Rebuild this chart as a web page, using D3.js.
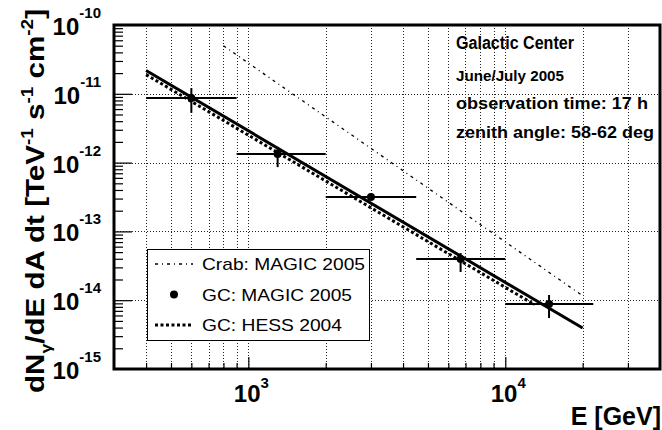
<!DOCTYPE html>
<html>
<head>
<meta charset="utf-8">
<script src="https://cdn.jsdelivr.net/npm/d3@7"></script>
<style>
  body { margin: 0; background: #fff; }
  text { font-family: "Liberation Sans", Arial, Helvetica, sans-serif; fill: #000; }
</style>
</head>
<body>
<svg id="chart" width="662" height="430"></svg>
<script>
// GC: MAGIC 2005 points (energy in GeV, flux in TeV^-1 s^-1 cm^-2)
let gc_energy = [600, 1300, 3000, 6700, 14800];
let gc_energy_low = [400, 900, 2000, 4500, 10000];
let gc_energy_high = [900, 2000, 4500, 10000, 22000];
let gc_flux = [8.7e-12, 1.33e-12, 3.16e-13, 3.97e-14, 8.8e-15];
let gc_flux_high = [1.21e-11, 1.69e-12, 3.4e-13, 4.85e-14, 1.19e-14];
let gc_flux_low = [5.3e-12, 8.6e-13, 2.9e-13, 2.57e-14, 5.5e-15];

// power law lines, read at their end points
let fit_energy = [400, 20000];
let fit_flux = [2.18e-11, 3.94e-15];
let hess_energy = [400, 13000];
let hess_flux = [1.9e-11, 8.6e-15];
let crab_energy = [800, 20000];
let crab_flux = [5.0e-11, 1.16e-14];

// axes
let x_domain = [300, 40000];
let y_domain = [1e-15, 1e-10];
let x_label_exp = [3, 4];
let y_label_exp = [-15, -14, -13, -12, -11, -10];

let legend_labels = ["Crab: MAGIC 2005", "GC: MAGIC 2005", "GC: HESS 2004"];
let info_lines = ["Galactic Center", "June/July 2005", "observation time: 17 h", "zenith angle: 58-62 deg"];

// layout
let frame = {left: 114, right: 660, top: 25, bottom: 369};

let svg = d3.select("#chart");

let x = d3.scaleLog().domain(x_domain).range([frame.left, frame.right]);
let y = d3.scaleLog().domain(y_domain).range([frame.bottom, frame.top]);

let x_all = x.ticks().filter(v => v > x_domain[0] && v < x_domain[1]);
let x_major = x_all.filter(v => Math.abs(Math.log10(v) % 1) < 1e-9);
let x_minor = x_all.filter(v => !x_major.includes(v));
let y_all = y.ticks().filter(v => v > y_domain[0] && v < y_domain[1]);
let y_major = y_all.filter(v => Math.abs(Math.round(Math.log10(v)) - Math.log10(v)) < 1e-9);
let y_minor = y_all.filter(v => !y_major.includes(v));

// grid
let grid = svg.append("g")
    .attr("stroke", "#222")
    .attr("stroke-width", 1)
    .attr("stroke-dasharray", "1,2");

grid.selectAll(".vgrid")
    .data(x_all)
    .join("line")
    .attr("x1", d => Math.round(x(d)) + 0.5)
    .attr("x2", d => Math.round(x(d)) + 0.5)
    .attr("y1", frame.top)
    .attr("y2", frame.bottom);

grid.selectAll(".hgrid")
    .data(y_major)
    .join("line")
    .attr("x1", frame.left)
    .attr("x2", frame.right)
    .attr("y1", d => Math.round(y(d)) + 0.5)
    .attr("y2", d => Math.round(y(d)) + 0.5);

// ticks (drawn inwards, ROOT style)
function draw_ticks(axis, values, size) {
    let g = svg.append("g");
    if (axis === "x") {
        g.attr("transform", "translate(0," + frame.bottom + ")")
         .call(d3.axisBottom(x).tickValues(values).tickSize(-size).tickFormat(""));
    } else {
        g.attr("transform", "translate(" + frame.left + ",0)")
         .call(d3.axisLeft(y).tickValues(values).tickSize(-size).tickFormat(""));
    }
    g.select(".domain").remove();
    g.selectAll("line").attr("stroke", "#000").attr("stroke-width", 1.2);
}
draw_ticks("x", x_minor, 6);
draw_ticks("x", x_major, 12);
draw_ticks("y", y_minor, 9);
draw_ticks("y", y_major, 18);

// tick labels
svg.selectAll(".xlab")
    .data(x_label_exp)
    .join("text")
    .attr("x", d => x(Math.pow(10, d)) + 3)
    .attr("y", 402)
    .attr("text-anchor", "middle")
    .attr("font-weight", "bold")
    .attr("font-size", 24)
    .each(function(d) {
        let t = d3.select(this);
        t.append("tspan").text("10");
        t.append("tspan").attr("font-size", 15).attr("dy", -14).text(d);
    });

svg.selectAll(".ylab")
    .data(y_label_exp)
    .join("text")
    .attr("x", 101)
    .attr("y", d => y(Math.pow(10, d)) + 10)
    .attr("text-anchor", "end")
    .attr("font-weight", "bold")
    .attr("font-size", 24)
    .each(function(d) {
        let t = d3.select(this);
        t.append("tspan").text("10");
        t.append("tspan").attr("font-size", 15).attr("dy", -17).text(d);
    });

// axis titles
svg.append("text")
    .attr("x", 661)
    .attr("y", 425)
    .attr("text-anchor", "end")
    .attr("font-weight", "bold")
    .attr("font-size", 25)
    .text("E [GeV]");

let ytitle = svg.append("text")
    .attr("transform", "translate(44,201) rotate(-90)")
    .attr("text-anchor", "middle")
    .attr("font-weight", "bold")
    .attr("font-size", 25)
    .attr("textLength", 384)
    .attr("lengthAdjust", "spacingAndGlyphs");
ytitle.append("tspan").text("dN");
ytitle.append("tspan").attr("font-size", 15).attr("dy", 7).text("γ");
ytitle.append("tspan").attr("dy", -7).text("/dE dA dt [TeV");
ytitle.append("tspan").attr("font-size", 16).attr("dy", -11).text("-1");
ytitle.append("tspan").attr("dy", 11).text(" s");
ytitle.append("tspan").attr("font-size", 16).attr("dy", -11).text("-1");
ytitle.append("tspan").attr("dy", 11).text(" cm");
ytitle.append("tspan").attr("font-size", 16).attr("dy", -11).text("-2");
ytitle.append("tspan").attr("dy", 11).text("]");

// lines
let line = d3.line().x(d => x(d[0])).y(d => y(d[1]));

svg.append("path")
    .attr("d", line(d3.zip(crab_energy, crab_flux)))
    .attr("fill", "none")
    .attr("stroke", "#000")
    .attr("stroke-width", 1.3)
    .attr("stroke-dasharray", "3,4,1,4");

svg.append("path")
    .attr("d", line(d3.zip(hess_energy, hess_flux)))
    .attr("fill", "none")
    .attr("stroke", "#000")
    .attr("stroke-width", 3)
    .attr("stroke-dasharray", "3,2.5");

svg.append("path")
    .attr("d", line(d3.zip(fit_energy, fit_flux)))
    .attr("fill", "none")
    .attr("stroke", "#000")
    .attr("stroke-width", 3);

// GC points with error bars
let pts = svg.append("g").attr("stroke", "#000").attr("stroke-width", 2);
pts.selectAll(".xerr")
    .data(gc_energy)
    .join("line")
    .attr("x1", (d, i) => x(gc_energy_low[i]))
    .attr("x2", (d, i) => x(gc_energy_high[i]))
    .attr("y1", (d, i) => y(gc_flux[i]))
    .attr("y2", (d, i) => y(gc_flux[i]));
pts.selectAll(".yerr")
    .data(gc_energy)
    .join("line")
    .attr("x1", d => x(d))
    .attr("x2", d => x(d))
    .attr("y1", (d, i) => y(gc_flux_high[i]))
    .attr("y2", (d, i) => y(gc_flux_low[i]));
svg.selectAll(".pt")
    .data(gc_energy)
    .join("circle")
    .attr("cx", d => x(d))
    .attr("cy", (d, i) => y(gc_flux[i]))
    .attr("r", 4)
    .attr("fill", "#000");

// legend
let legend = svg.append("g");
legend.append("rect")
    .attr("x", 147.5).attr("y", 249.5)
    .attr("width", 222).attr("height", 91)
    .attr("fill", "#fff").attr("stroke", "#000").attr("stroke-width", 1);

let legend_y = d3.scalePoint().domain(legend_labels).range([264, 325]);
let legend_width = [163, 150, 140];
legend.selectAll(".ltext")
    .data(legend_labels)
    .join("text")
    .attr("x", 202)
    .attr("y", d => legend_y(d) + 6)
    .attr("font-size", 17)
    .attr("textLength", (d, i) => legend_width[i])
    .attr("lengthAdjust", "spacingAndGlyphs")
    .text(d => d);

legend.append("line")
    .attr("x1", 155).attr("x2", 193)
    .attr("y1", legend_y(legend_labels[0])).attr("y2", legend_y(legend_labels[0]))
    .attr("stroke", "#000").attr("stroke-width", 1.3).attr("stroke-dasharray", "3,4,1,4");
legend.append("circle")
    .attr("cx", 174).attr("cy", legend_y(legend_labels[1]))
    .attr("r", 4).attr("fill", "#000");
legend.append("line")
    .attr("x1", 155).attr("x2", 193)
    .attr("y1", legend_y(legend_labels[2])).attr("y2", legend_y(legend_labels[2]))
    .attr("stroke", "#000").attr("stroke-width", 3).attr("stroke-dasharray", "3,2.5");

// info text
let info_y = [49, 81, 109, 138];
let info_size = [17.5, 15.5, 16.5, 16.5];
let info_width = [118, 108, 192, 198];
svg.selectAll(".info")
    .data(info_lines)
    .join("text")
    .attr("x", 456)
    .attr("y", (d, i) => info_y[i])
    .attr("font-weight", "bold")
    .attr("font-size", (d, i) => info_size[i])
    .attr("textLength", (d, i) => info_width[i])
    .attr("lengthAdjust", "spacingAndGlyphs")
    .text(d => d);

// frame
svg.append("rect")
    .attr("x", frame.left).attr("y", frame.top)
    .attr("width", frame.right - frame.left).attr("height", frame.bottom - frame.top)
    .attr("fill", "none").attr("stroke", "#000").attr("stroke-width", 3);
</script>
</body>
</html>
